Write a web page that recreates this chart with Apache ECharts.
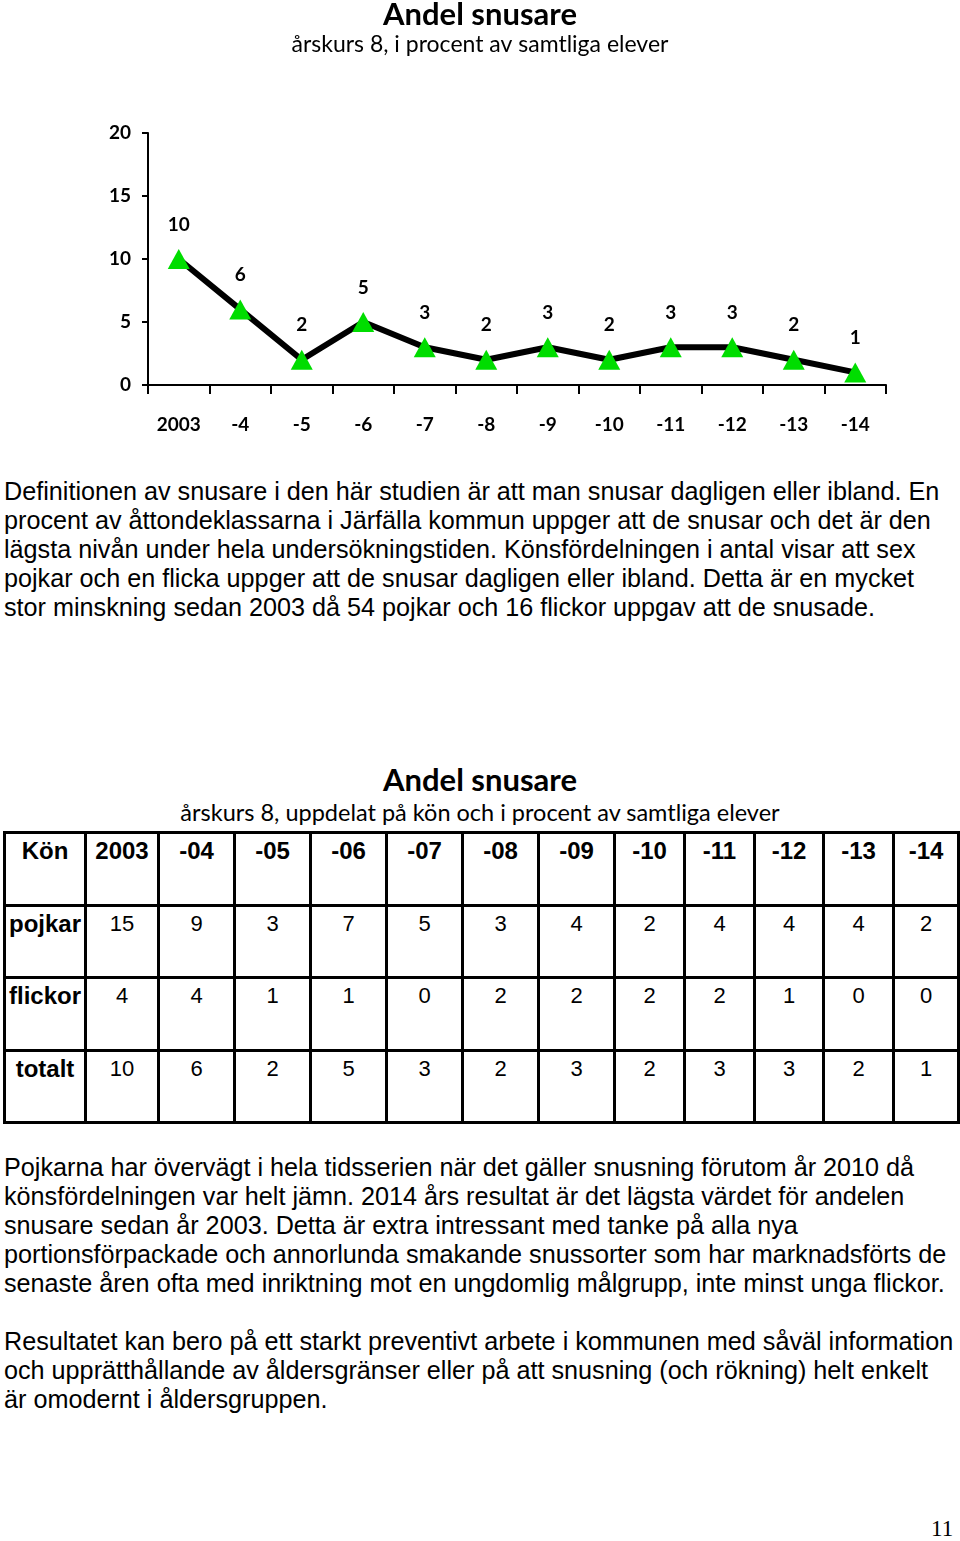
<!DOCTYPE html>
<html><head><meta charset="utf-8">
<script src="https://cdn.jsdelivr.net/npm/echarts@6/dist/echarts.min.js"></script>
<style>
html,body{margin:0;padding:0;background:#fff;}
body{position:relative;width:960px;height:1541px;overflow:hidden;font-family:"Liberation Sans",Arial,sans-serif;color:#000;}
#chart{position:absolute;left:0;top:0;width:960px;height:460px;}
.para{position:absolute;left:4px;font-size:25.2px;line-height:29px;white-space:nowrap;}
.ttl{position:absolute;left:0;width:960px;text-align:center;font-family:Lato,"Open Sans",sans-serif;}
#tbl{position:absolute;left:3px;top:831px;border-collapse:collapse;table-layout:fixed;}
#tbl td{border:3px solid #000;padding:4px 0 0 0;vertical-align:top;text-align:center;font-size:22px;line-height:26px;}
#tbl tr.h td{font-weight:bold;font-size:24px;}
#tbl td.lab{font-weight:bold;font-size:24px;}
#pg{position:absolute;left:931px;top:1516px;font-family:"Liberation Serif",serif;font-size:23px;}
</style></head>
<body>
<div id="chart"></div>
<div class="para" style="top:477px">Definitionen av snusare i den här studien är att man snusar dagligen eller ibland. En<br>procent av åttondeklassarna i Järfälla kommun uppger att de snusar och det är den<br>lägsta nivån under hela undersökningstiden. Könsfördelningen i antal visar att sex<br>pojkar och en flicka uppger att de snusar dagligen eller ibland. Detta är en mycket<br>stor minskning sedan 2003 då 54 pojkar och 16 flickor uppgav att de snusade.</div>
<div class="ttl" style="top:760px;font-size:31px;font-weight:bold;">Andel snusare</div>
<div class="ttl" style="top:798px;font-size:23.5px;">årskurs 8, uppdelat på kön och i procent av samtliga elever</div>
<table id="tbl"></table>
<div class="para" style="top:1153px">Pojkarna har övervägt i hela tidsserien när det gäller snusning förutom år 2010 då<br>könsfördelningen var helt jämn. 2014 års resultat är det lägsta värdet för andelen<br>snusare sedan år 2003. Detta är extra intressant med tanke på alla nya<br>portionsförpackade och annorlunda smakande snussorter som har marknadsförts de<br>senaste åren ofta med inriktning mot en ungdomlig målgrupp, inte minst unga flickor.<br><br>Resultatet kan bero på ett starkt preventivt arbete i kommunen med såväl information<br>och upprätthållande av åldersgränser eller på att snusning (och rökning) helt enkelt<br>är omodernt i åldersgruppen.</div>
<div id="pg">11</div>
<script>
// Chart data
const chartCategories = ['2003','-4','-5','-6','-7','-8','-9','-10','-11','-12','-13','-14'];
const totalValues = [10, 6, 2, 5, 3, 2, 3, 2, 3, 3, 2, 1];
const yTicks = [0, 5, 10, 15, 20];

// Table data
const tableHeaderLabel = 'Kön';
const tableYears = ['2003','-04','-05','-06','-07','-08','-09','-10','-11','-12','-13','-14'];
const pojkar = [15, 9, 3, 7, 5, 3, 4, 2, 4, 4, 4, 2];
const flickor = [4, 4, 1, 1, 0, 2, 2, 2, 2, 1, 0, 0];
const totalt = [10, 6, 2, 5, 3, 2, 3, 2, 3, 3, 2, 1];
const rowNames = ['pojkar', 'flickor', 'totalt'];

// Build table
(function(){
  const colW = [81, 73, 76, 76, 76, 76, 76, 76, 70, 70, 69, 70, 65];
  const rowH = [73, 72, 73, 72];
  const tbl = document.getElementById('tbl');
  const cg = document.createElement('colgroup');
  colW.forEach(w => { const c = document.createElement('col'); c.style.width = w + 'px'; cg.appendChild(c); });
  tbl.appendChild(cg);
  const rows = [[tableHeaderLabel].concat(tableYears)];
  [pojkar, flickor, totalt].forEach((arr, i) => rows.push([rowNames[i]].concat(arr)));
  rows.forEach((r, ri) => {
    const tr = document.createElement('tr');
    if (ri === 0) tr.className = 'h';
    tr.style.height = rowH[ri] + 'px';
    r.forEach((v, ci) => {
      const td = document.createElement('td');
      if (ci === 0) td.className = 'lab';
      td.textContent = String(v);
      tr.appendChild(td);
    });
    tbl.appendChild(tr);
  });
  tbl.style.width = colW.reduce((a, b) => a + b, 0) + 'px';
})();

const chart = echarts.init(document.getElementById('chart'));
const gill = 'Lato, "Open Sans", sans-serif';
chart.setOption({
  animation: false,
  title: {
    text: 'Andel snusare',
    subtext: 'årskurs 8, i procent av samtliga elever',
    left: 'center', top: -6, itemGap: 3,
    textStyle: { fontFamily: gill, fontSize: 31, fontWeight: 'bold', color: '#000' },
    subtextStyle: { fontFamily: gill, fontSize: 23, color: '#000' }
  },
  grid: { left: 148, right: 74, top: 133, bottom: 75 },
  xAxis: {
    type: 'category',
    data: chartCategories,
    boundaryGap: true,
    axisLine: { lineStyle: { color: '#000', width: 2 } },
    axisTick: { show: true, length: 9, lineStyle: { color: '#000', width: 2 } },
    axisLabel: { color: '#000', fontFamily: gill, fontWeight: 'bold', fontSize: 19, margin: 30 }
  },
  yAxis: {
    type: 'value',
    min: yTicks[0], max: yTicks[yTicks.length - 1], interval: yTicks[1] - yTicks[0],
    axisLine: { show: true, lineStyle: { color: '#000', width: 2 } },
    axisTick: { show: true, length: 6, lineStyle: { color: '#000', width: 2 } },
    splitLine: { show: false },
    axisLabel: { color: '#000', fontFamily: gill, fontWeight: 'bold', fontSize: 19, margin: 17 }
  },
  series: [{
    type: 'line',
    data: totalValues,
    symbol: 'triangle',
    symbolSize: [22, 20],
    showAllSymbol: true,
    lineStyle: { color: '#000', width: 6 },
    itemStyle: { color: '#00dd00', borderWidth: 0 },
    label: { show: true, position: 'top', distance: 15, color: '#000', fontFamily: gill, fontWeight: 'bold', fontSize: 19 },
    z: 3
  }]
});
</script>
</body></html>
